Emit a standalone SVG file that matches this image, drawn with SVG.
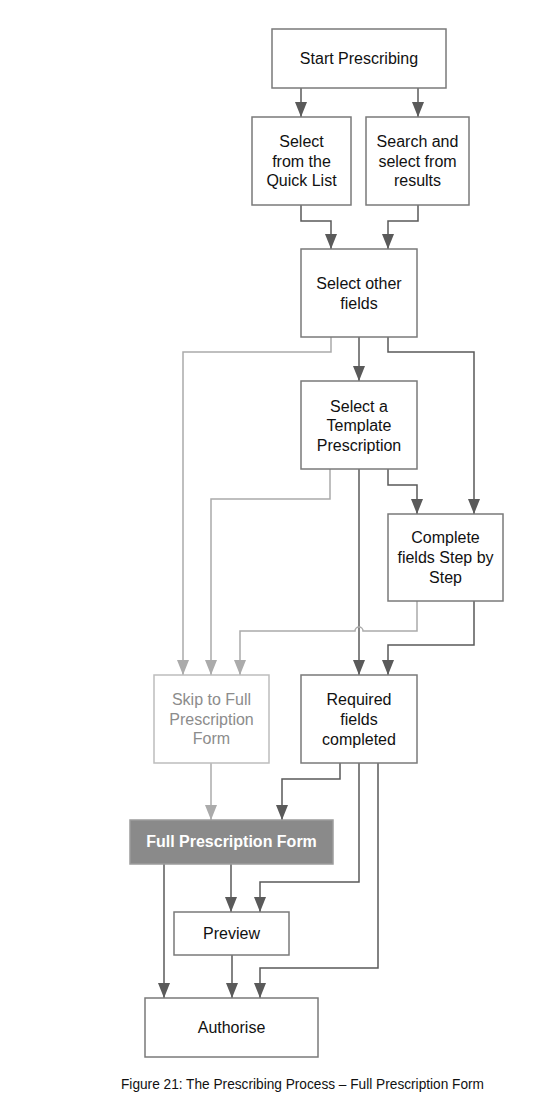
<svg xmlns="http://www.w3.org/2000/svg" width="533" height="1111" viewBox="0 0 533 1111">
<style>
.box{fill:#fff;stroke:#7a7a7a;stroke-width:1.5}
.lbox{fill:#fff;stroke:#bdbdbd;stroke-width:1.5}
.fbox{fill:#8a8a8a;stroke:#9c9c9c;stroke-width:1.5}
.t{font-family:"Liberation Sans",Arial,sans-serif;font-size:16px;fill:#111;text-anchor:middle}
.lt{fill:#8c8c8c}
.wt{fill:#fff;font-weight:bold}
.d{fill:none;stroke:#5a5a5a;stroke-width:1.5;marker-end:url(#ad)}
.l{fill:none;stroke:#ababab;stroke-width:1.5;marker-end:url(#al)}
.cap{font-family:"Liberation Sans",Arial,sans-serif;font-size:14px;fill:#111}
</style>
<defs>
<marker id="ad" viewBox="0 0 15 12" refX="15" refY="6" markerWidth="15" markerHeight="12" markerUnits="userSpaceOnUse" orient="auto"><path d="M0,0 L15,6 L0,12 z" fill="#5a5a5a"/></marker>
<marker id="al" viewBox="0 0 15 12" refX="15" refY="6" markerWidth="15" markerHeight="12" markerUnits="userSpaceOnUse" orient="auto"><path d="M0,0 L15,6 L0,12 z" fill="#ababab"/></marker>
</defs>
<rect width="533" height="1111" fill="#fff"/>
<g id="connectors">
<path class="d" d="M301,88 V117"/>
<path class="d" d="M418,88 V117"/>
<path class="d" d="M301,205 V221 H331 V249"/>
<path class="d" d="M418,205 V221 H388 V249"/>
<path class="l" d="M331,337 V352 H183 V675"/>
<path class="d" d="M359,337 V381"/>
<path class="d" d="M388,337 V352 H474 V514"/>
<path class="l" d="M330,469 V499 H211 V675"/>
<path class="d" d="M359,469 V675"/>
<path class="d" d="M388,469 V485 H417 V514"/>
<path class="l" d="M417,601 V631 H363 A4,4 0 0 0 355,631 H240 V675"/>
<path class="d" d="M474,601 V645 H388 V675"/>
<path class="l" d="M211,763 V820"/>
<path class="d" d="M340,763 V779 H282 V820"/>
<path class="d" d="M359,763 V882 H260 V912"/>
<path class="d" d="M378,763 V968 H260 V998"/>
<path class="d" d="M164,864 V998"/>
<path class="d" d="M231,864 V912"/>
<path class="d" d="M232,955 V998"/>
</g>
<g id="start"><rect class="box" x="272" y="29" width="174" height="59"/><text class="t" x="359" y="64">Start Prescribing</text></g>
<g id="quicklist"><rect class="box" x="252" y="117" width="99" height="88"/><text class="t" x="301.5" y="147">Select</text><text class="t" x="301.5" y="167">from the</text><text class="t" x="301.5" y="186">Quick List</text></g>
<g id="search"><rect class="box" x="366" y="117" width="103" height="88"/><text class="t" x="417.5" y="147">Search and</text><text class="t" x="417.5" y="167">select from</text><text class="t" x="417.5" y="186">results</text></g>
<g id="otherfields"><rect class="box" x="301" y="249" width="116" height="88"/><text class="t" x="359" y="289">Select other</text><text class="t" x="359" y="309">fields</text></g>
<g id="template"><rect class="box" x="301" y="381" width="116" height="88"/><text class="t" x="359" y="412">Select a</text><text class="t" x="359" y="431">Template</text><text class="t" x="359" y="451">Prescription</text></g>
<g id="stepbystep"><rect class="box" x="388" y="514" width="115" height="87"/><text class="t" x="445.5" y="543">Complete</text><text class="t" x="445.5" y="563">fields Step by</text><text class="t" x="445.5" y="583">Step</text></g>
<g id="skip"><rect class="lbox" x="154" y="675" width="115" height="88"/><text class="t lt" x="211.5" y="705">Skip to Full</text><text class="t lt" x="211.5" y="725">Prescription</text><text class="t lt" x="211.5" y="744">Form</text></g>
<g id="required"><rect class="box" x="301" y="675" width="116" height="88"/><text class="t" x="359" y="705">Required</text><text class="t" x="359" y="725">fields</text><text class="t" x="359" y="745">completed</text></g>
<g id="fullform"><rect class="fbox" x="130" y="820" width="203" height="44"/><text class="t wt" x="231.5" y="847">Full Prescription Form</text></g>
<g id="preview"><rect class="box" x="174" y="912" width="115" height="43"/><text class="t" x="231.5" y="939">Preview</text></g>
<g id="authorise"><rect class="box" x="145" y="998" width="173" height="59"/><text class="t" x="231.5" y="1033">Authorise</text></g>
<text class="cap" x="121" y="1089" textLength="363" lengthAdjust="spacingAndGlyphs">Figure 21: The Prescribing Process – Full Prescription Form</text>
</svg>
